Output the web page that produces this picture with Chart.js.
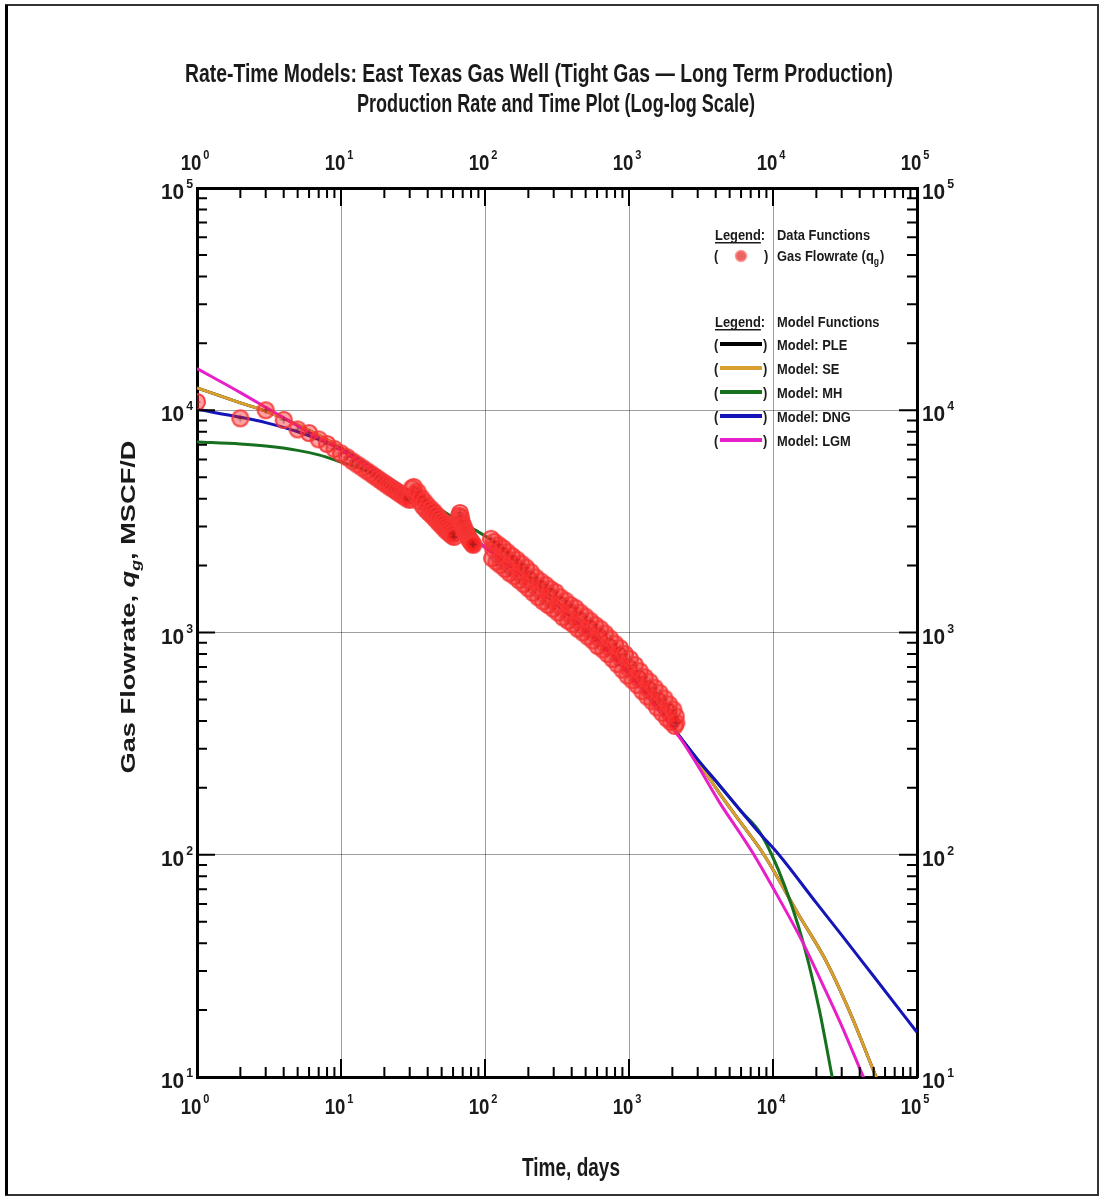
<!DOCTYPE html>
<html>
<head>
<meta charset="utf-8">
<title>Rate-Time Models: East Texas Gas Well</title>
<script src="https://cdn.jsdelivr.net/npm/chart.js@4.4.1/dist/chart.umd.min.js"></script>
<style>
  html, body { margin: 0; padding: 0; background: #fff; }
  canvas { display: block; }
</style>
</head>
<body>
<canvas id="rateChart" width="1105" height="1198"></canvas>
<script>
const dataDays = [1, 2, 3, 4, 5, 6, 7, 8, 9, 10, 11, 12, 13, 14, 15, 16, 17, 18, 19, 20,
  21, 22, 23, 24, 25, 26, 27, 28, 29, 30, 31, 32, 33, 34, 35, 36, 37, 38, 39, 40,
  41, 42, 43, 44, 45, 46, 47, 48, 49, 50, 51, 52, 53, 54, 55, 56, 57, 58, 59, 60, 61,
  66, 67, 68, 69, 70, 71, 72, 73, 74, 75, 76, 77, 78, 79, 80, 81, 82, 83,
  110, 112, 114, 116, 120, 124, 128, 131, 133, 138, 143, 148, 151, 154, 160, 166, 172, 176, 179, 186,
  193, 200, 204, 208, 216, 225, 234, 239, 243, 253, 263, 274, 279, 285, 297, 309, 321, 327, 334, 348,
  362, 377, 384, 392, 408, 424, 441, 450, 459, 478, 497, 517, 527, 538, 560, 583, 606, 619, 631, 656,
  683, 710, 725, 739, 769, 800, 832, 850, 866, 901, 937, 975, 1000, 1014, 1055, 1098, 1142, 1165, 1188, 1236,
  1286, 1338, 1365, 1392, 1448, 1506, 1567, 1600, 1630, 1696, 1764, 1835, 1880, 1900, 1960, 2030, 2080, 2110, 2130];
const dataRates = [10900, 9200, 10000, 9050, 8200, 7900, 7400, 7050, 6700, 6400, 6150, 5900, 5700, 5520, 5350, 5200, 5060, 4930, 4810, 4700,
  4600, 4500, 4420, 4340, 4260, 4190, 4120, 4060, 4000, 3950, 4450, 4520, 4150, 4300, 3900, 4050, 3700, 3880, 3560, 3720,
  3450, 3600, 3350, 3500, 3250, 3380, 3150, 3280, 3060, 3180, 2980, 3100, 2900, 3020, 2840, 2950, 2780, 2880, 2730, 2800, 2690,
  3350, 3450, 3300, 3150, 3050, 2980, 2900, 2850, 2800, 2760, 2700, 2660, 2620, 2590, 2560, 2530, 2500, 2480,
  2640, 2160, 2380, 2560, 2080, 2480, 2010, 2200, 2400, 1930, 2300, 1850, 2040, 2210, 1790, 2130, 1720, 1880, 2040, 1650,
  1960, 1580, 1720, 1870, 1510, 1770, 1440, 1570, 1700, 1380, 1640, 1330, 1450, 1570, 1280, 1520, 1230, 1330, 1440, 1170,
  1390, 1130, 1220, 1330, 1090, 1290, 1040, 1130, 1230, 1000, 1180, 960, 1040, 1130, 920, 1080, 870, 950, 1040, 840,
  990, 800, 860, 940, 760, 890, 720, 790, 850, 680, 800, 640, 690, 760, 610, 715, 580, 620, 670, 545,
  630, 515, 555, 600, 490, 565, 460, 490, 535, 435, 505, 410, 440, 475, 395, 450, 380, 420, 392];

// model functions
const pleDays = [1, 2, 3, 5, 10, 20, 30, 50, 70, 100, 150, 200, 300, 500, 700, 1000, 1500, 2000, 2300,
  3000, 4230, 6000, 8650, 15000, 23170, 35000, 52100, 60000];
const pleRates = [12600, 10800, 9900, 8600, 6800, 5100, 4300, 3350, 2870, 2420, 1990, 1720, 1380, 1020, 830, 650, 478, 375, 334,
  264, 190, 139, 100, 54, 33.6, 18.9, 10, 8.2];

const seDays = [1, 2, 3, 5, 10, 20, 30, 50, 70, 100, 150, 200, 300, 500, 700, 1000, 1500, 2000, 2300,
  3000, 4230, 6000, 8650, 15000, 23170, 35000, 52100, 60000];
const seRates = [12600, 10800, 9900, 8600, 6800, 5100, 4300, 3350, 2870, 2420, 1990, 1720, 1380, 1020, 830, 650, 478, 375, 334,
  264, 190, 139, 100, 54, 33.6, 18.9, 10, 8.2];

const mhDays = [1, 2, 3, 5, 7, 10, 15, 20, 30, 50, 70, 93, 128, 200, 300, 500, 700, 1000, 1500, 2000, 2300,
  3000, 4230, 6000, 7980, 9800, 12000, 15070, 17660, 21000, 25470, 27000];
const mhRates = [7200, 7050, 6900, 6600, 6300, 5850, 5350, 4950, 4300, 3550, 3100, 2800, 2430, 1800, 1420, 1040, 850, 660, 482, 378, 334,
  268, 206, 157, 128, 100, 73, 47.3, 32.6, 20, 10.4, 8.5];

const dngDays = [1, 2, 3, 5, 10, 20, 30, 50, 70, 100, 150, 200, 300, 500, 700, 1000, 1500, 2000, 2300,
  3000, 4230, 6000, 7980, 11000, 20000, 30000, 50000, 100000];
const dngRates = [10100, 9300, 8800, 8000, 6700, 5100, 4300, 3350, 2870, 2420, 1990, 1720, 1380, 1020, 830, 650, 478, 375, 334,
  268, 206, 157, 126, 100, 60.7, 43.5, 28.4, 15.9];

const lgmDays = [1, 2, 3, 5, 10, 20, 30, 50, 70, 100, 150, 200, 300, 500, 700, 1000, 1500, 2000, 2300,
  3000, 4230, 6000, 7370, 10000, 15800, 20000, 30000, 42400, 50000];
const lgmRates = [15400, 12000, 10300, 8500, 6600, 5000, 4250, 3300, 2850, 2420, 1990, 1720, 1380, 1020, 830, 650, 476, 372, 330,
  252, 173, 123, 100, 71, 41.3, 30, 17, 10, 7.8];

// axis ticks
const xDecades = [1, 10, 100, 1000, 10000, 100000];
const yDecades = [10, 100, 1000, 10000, 100000];
const minorSteps = [2, 3, 4, 5, 6, 7, 8, 9];

const models = [
  { name: 'PLE', days: pleDays, rates: pleRates, color: '#000000', order: 6 },
  { name: 'SE', days: seDays, rates: seRates, color: '#d9a030', order: 5 },
  { name: 'MH', days: mhDays, rates: mhRates, color: '#16701e', order: 4 },
  { name: 'DNG', days: dngDays, rates: dngRates, color: '#1414b8', order: 3 },
  { name: 'LGM', days: lgmDays, rates: lgmRates, color: '#e81ec8', order: 2 }
];

const FONT = '"Liberation Sans", Arial, Helvetica, sans-serif';

// circle-with-plus marker used for the data
function makeMarker() {
  const c = document.createElement('canvas');
  c.width = 20; c.height = 20;
  const g = c.getContext('2d');
  g.beginPath();
  g.arc(10, 10, 8, 0, Math.PI * 2);
  g.fillStyle = 'rgba(255, 30, 30, 0.42)';
  g.fill();
  g.lineWidth = 2.2;
  g.strokeStyle = 'rgba(245, 55, 55, 0.9)';
  g.stroke();
  g.beginPath();
  g.moveTo(10, 6.5); g.lineTo(10, 13.5);
  g.moveTo(6.5, 10); g.lineTo(13.5, 10);
  g.lineWidth = 1;
  g.strokeStyle = 'rgba(110, 30, 30, 0.7)';
  g.stroke();
  return c;
}
const marker = makeMarker();

function toPoints(xs, ys) {
  return xs.map((x, i) => ({ x: x, y: ys[i] }));
}

const datasets = [{
  label: 'Gas Flowrate (qg)',
  data: toPoints(dataDays, dataRates),
  showLine: false,
  pointStyle: marker,
  order: 1
}];
models.forEach(m => {
  datasets.push({
    label: 'Model: ' + m.name,
    data: toPoints(m.days, m.rates),
    showLine: true,
    borderColor: m.color,
    borderWidth: 3,
    pointRadius: 0,
    cubicInterpolationMode: 'monotone',
    order: m.order
  });
});

// draw text squeezed horizontally
function squeezed(ctx, text, x, y, font, align, sx) {
  ctx.save();
  ctx.font = font;
  const w = ctx.measureText(text).width * sx;
  const start = align === 'center' ? x - w / 2 : (align === 'right' ? x - w : x);
  ctx.translate(start, y);
  ctx.scale(sx, 1);
  ctx.textAlign = 'left';
  ctx.textBaseline = 'alphabetic';
  ctx.fillText(text, 0, 0);
  ctx.restore();
  return w;
}

function fitted(ctx, text, cx, y, font, width) {
  ctx.save();
  ctx.font = font;
  const sx = width / ctx.measureText(text).width;
  ctx.restore();
  squeezed(ctx, text, cx, y, font, 'center', sx);
}

function powLabel(ctx, exp, x, y, align, sx) {
  ctx.save();
  ctx.font = 'bold 22px ' + FONT;
  const w1 = ctx.measureText('10').width;
  ctx.font = 'bold 13px ' + FONT;
  const w2 = ctx.measureText(String(exp)).width;
  const w = (w1 + 2 + w2) * sx;
  const start = align === 'center' ? x - w / 2 : (align === 'right' ? x - w : x);
  ctx.translate(start, y);
  ctx.scale(sx, 1);
  ctx.textBaseline = 'alphabetic';
  ctx.textAlign = 'left';
  ctx.font = 'bold 22px ' + FONT;
  ctx.fillText('10', 0, 0);
  ctx.font = 'bold 13px ' + FONT;
  ctx.fillText(String(exp), w1 + 2, -11);
  ctx.restore();
}

const decorations = {
  id: 'decorations',
  afterDatasetsDraw(chart) {
    const { ctx, chartArea: a, scales } = chart;
    ctx.save();
    ctx.strokeStyle = '#000';
    ctx.lineWidth = 2;
    ctx.beginPath();
    xDecades.forEach((d, i) => {
      const px = scales.x.getPixelForValue(d);
      ctx.moveTo(px, a.bottom); ctx.lineTo(px, a.bottom - 18);
      ctx.moveTo(px, a.top); ctx.lineTo(px, a.top + 18);
      if (i < xDecades.length - 1) {
        minorSteps.forEach(m => {
          const p = scales.x.getPixelForValue(d * m);
          ctx.moveTo(p, a.bottom); ctx.lineTo(p, a.bottom - 10);
          ctx.moveTo(p, a.top); ctx.lineTo(p, a.top + 10);
        });
      }
    });
    yDecades.forEach((d, i) => {
      const py = scales.y.getPixelForValue(d);
      ctx.moveTo(a.left, py); ctx.lineTo(a.left + 18, py);
      ctx.moveTo(a.right, py); ctx.lineTo(a.right - 18, py);
      if (i < yDecades.length - 1) {
        minorSteps.forEach(m => {
          const p = scales.y.getPixelForValue(d * m);
          ctx.moveTo(a.left, p); ctx.lineTo(a.left + 10, p);
          ctx.moveTo(a.right, p); ctx.lineTo(a.right - 10, p);
        });
      }
    });
    ctx.stroke();
    ctx.restore();
  },
  afterDraw(chart) {
    const { ctx, chartArea: a, scales } = chart;
    ctx.save();
    ctx.fillStyle = '#1a1a1a';

    // tick labels
    xDecades.forEach(d => {
      const px = scales.x.getPixelForValue(d);
      const e = Math.round(Math.log10(d));
      powLabel(ctx, e, px - 2, a.bottom + 37, 'center', 0.85);
      powLabel(ctx, e, px - 2, a.top - 18, 'center', 0.85);
    });
    yDecades.forEach(d => {
      const py = scales.y.getPixelForValue(d);
      const e = Math.round(Math.log10(d));
      powLabel(ctx, e, a.left - 4, py + 11, 'right', 0.95);
      powLabel(ctx, e, a.right + 5, py + 11, 'left', 0.95);
    });

    // titles
    fitted(ctx, 'Rate-Time Models: East Texas Gas Well (Tight Gas \u2014 Long Term Production)', 539, 82,
      'bold 25px ' + FONT, 708);
    fitted(ctx, 'Production Rate and Time Plot (Log-log Scale)', 556, 112, 'bold 25px ' + FONT, 398);
    fitted(ctx, 'Time, days', 571, 1176, 'bold 25px ' + FONT, 98);

    // y axis title with q subscript g
    ctx.save();
    ctx.translate(128, 607);
    ctx.rotate(-Math.PI / 2);
    const parts = [
      { t: 'Gas Flowrate, ', f: 'bold 20px ' + FONT, dy: 0 },
      { t: 'q', f: 'italic bold 20px ' + FONT, dy: 0 },
      { t: 'g', f: 'italic bold 13px ' + FONT, dy: 5 },
      { t: ', MSCF/D', f: 'bold 20px ' + FONT, dy: 0 }
    ];
    let total = 0;
    parts.forEach(p => { ctx.font = p.f; p.w = ctx.measureText(p.t).width; total += p.w; });
    const ysx = 333 / total;
    ctx.scale(ysx, 1);
    let cx = -total / 2;
    ctx.textBaseline = 'alphabetic';
    parts.forEach(p => { ctx.font = p.f; ctx.fillText(p.t, cx, 7 + p.dy); cx += p.w; });
    ctx.restore();

    // legend box
    const lf = 'bold 15px ' + FONT;
    const lsx = 0.86;
    function legendHead(y, rest) {
      const w = squeezed(ctx, 'Legend', 715, y, lf, 'left', lsx);
      ctx.fillRect(715, y + 2, w, 1.5);
      squeezed(ctx, ':', 715 + w, y, lf, 'left', lsx);
      squeezed(ctx, rest, 777, y, lf, 'left', lsx);
    }
    legendHead(240, 'Data Functions');
    squeezed(ctx, '(', 714, 261, lf, 'left', lsx);
    squeezed(ctx, ')', 764, 261, lf, 'left', lsx);
    ctx.beginPath();
    ctx.arc(741, 256, 5.5, 0, Math.PI * 2);
    ctx.fillStyle = 'rgba(235, 70, 70, 0.85)';
    ctx.fill();
    ctx.lineWidth = 1.5;
    ctx.strokeStyle = 'rgba(250, 150, 150, 0.9)';
    ctx.stroke();
    ctx.fillStyle = '#1a1a1a';
    let w = squeezed(ctx, 'Gas Flowrate (q', 777, 261, lf, 'left', lsx);
    const ws = squeezed(ctx, 'g', 777 + w, 265, 'bold 10px ' + FONT, 'left', lsx);
    squeezed(ctx, ')', 777 + w + ws + 1, 261, lf, 'left', lsx);

    legendHead(327, 'Model Functions');
    models.forEach((m, i) => {
      const yc = 344 + i * 24;
      squeezed(ctx, '(', 714, yc + 6, lf, 'left', lsx);
      squeezed(ctx, ')', 763, yc + 6, lf, 'left', lsx);
      ctx.beginPath();
      ctx.moveTo(720, yc);
      ctx.lineTo(762, yc);
      ctx.lineWidth = 4;
      ctx.strokeStyle = m.color;
      ctx.stroke();
      squeezed(ctx, 'Model: ' + m.name, 777, yc + 6, lf, 'left', lsx);
    });

    // outer frame
    ctx.strokeStyle = '#333';
    ctx.lineWidth = 2;
    ctx.strokeRect(6, 5, 1092, 1190);
    ctx.fillStyle = '#000';
    ctx.fillRect(5, 5, 3, 1190);
    ctx.restore();
  }
};

function logAxis(position, min, max, decades, size, showGrid) {
  const horizontal = position === 'top' || position === 'bottom';
  return {
    type: 'logarithmic',
    position: position,
    min: min,
    max: max,
    afterBuildTicks: s => { s.ticks = decades.map(v => ({ value: v })); },
    afterFit: s => { if (horizontal) s.height = size; else s.width = size; },
    ticks: { display: false, autoSkip: false },
    grid: { display: showGrid, drawTicks: false, color: 'rgba(0,0,0,0.38)', lineWidth: 1 },
    border: { display: true, color: '#000', width: 3 }
  };
}

new Chart(document.getElementById('rateChart'), {
  type: 'scatter',
  data: { datasets: datasets },
  options: {
    responsive: false,
    devicePixelRatio: 1,
    animation: false,
    events: [],
    layout: { padding: 0 },
    scales: {
      x: logAxis('bottom', 1, 100000, xDecades, 121, true),
      x2: logAxis('top', 1, 100000, xDecades, 188, false),
      y: logAxis('left', 10, 100000, yDecades, 197, true),
      y2: logAxis('right', 10, 100000, yDecades, 188, false)
    },
    plugins: {
      legend: { display: false },
      title: { display: false },
      tooltip: { enabled: false }
    }
  },
  plugins: [decorations]
});
</script>
</body>
</html>
